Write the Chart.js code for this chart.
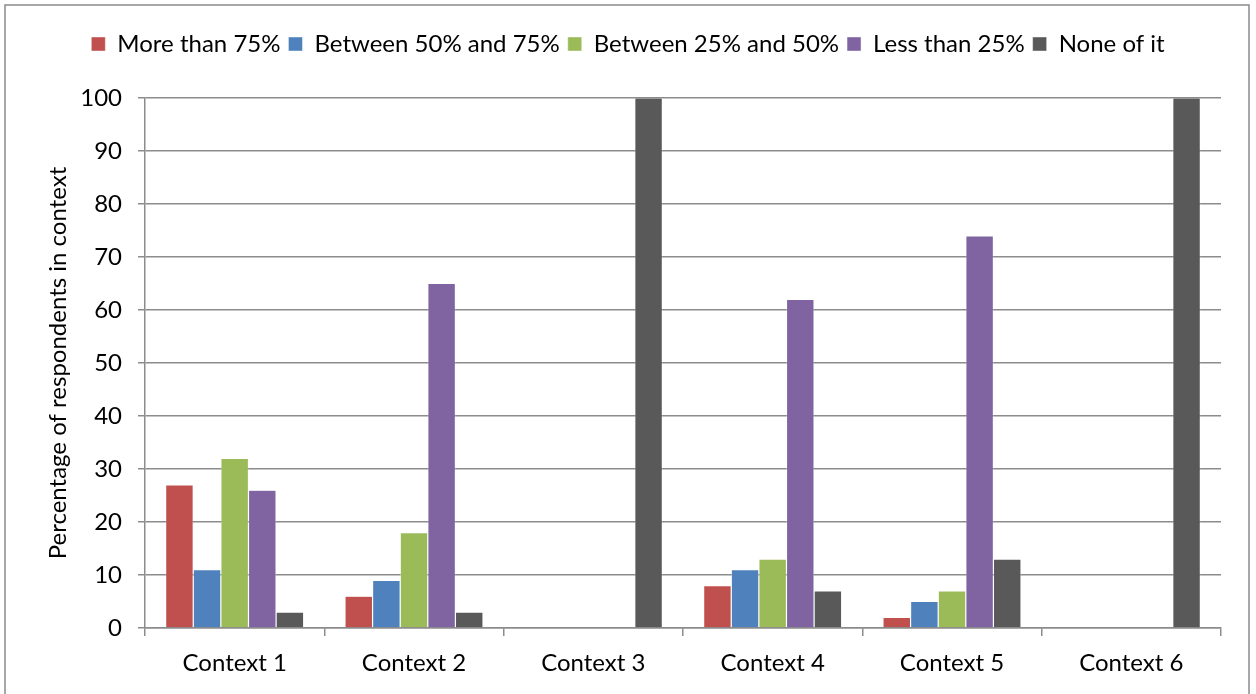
<!DOCTYPE html>
<html>
<head>
<meta charset="utf-8">
<script src="https://cdn.jsdelivr.net/npm/chart.js@4.4.0/dist/chart.umd.min.js"></script>
<style>
  html, body { margin: 0; padding: 0; background: #fff; }
  #wrap { position: relative; width: 1256px; height: 694px; }
</style>
</head>
<body>
<div id="wrap"><canvas id="myChart" width="1256" height="694"></canvas></div>
<script>
const ctx = document.getElementById('myChart');

const labels = ["Context 1", "Context 2", "Context 3", "Context 4", "Context 5", "Context 6"];
const moreThan75 = [27, 6, 0, 8, 2, 0];
const between50and75 = [11, 9, 0, 11, 5, 0];
const between25and50 = [32, 18, 0, 13, 7, 0];
const lessThan25 = [26, 65, 0, 62, 74, 0];
const noneOfIt = [3, 3, 100, 7, 13, 100];

const fontName = "Lato, 'Open Sans', sans-serif";
const fontSize = 24;
const gridGrey = '#8c8c8c';

// grey frame round the picture (top, left and right edges only)
const frame = {
    id: 'frame',
    afterDraw(chart) {
        const c = chart.ctx;
        c.save();
        c.strokeStyle = '#8a8a8a';
        c.lineWidth = 1.5;
        c.beginPath();
        c.moveTo(5, 700);
        c.lineTo(5, 5);
        c.lineTo(1249, 5);
        c.lineTo(1249, 700);
        c.stroke();
        c.restore();
    }
};

const legendHeight = {
    id: 'legendHeight',
    beforeInit(chart) {
        const fit = chart.legend.fit;
        chart.legend.fit = function () {
            fit.bind(chart.legend)();
            this.height = 74;
        };
    }
};

function bar(label, values, color) {
    return {
        label: label,
        data: values,
        backgroundColor: color,
        borderColor: 'rgba(255,255,255,0.7)',
        borderWidth: 0.6,
        barPercentage: 1,
        categoryPercentage: 0.77
    };
}

new Chart(ctx, {
    type: 'bar',
    data: {
        labels: labels,
        datasets: [
            bar('More than 75%', moreThan75, '#C0504D'),
            bar('Between 50% and 75%', between50and75, '#4F81BD'),
            bar('Between 25% and 50%', between25and50, '#9BBB59'),
            bar('Less than 25%', lessThan25, '#8064A2'),
            bar('None of it', noneOfIt, '#595959'),
        ]
    },
    plugins: [legendHeight, frame],
    options: {
        responsive: false,
        animation: false,
        layout: { padding: { top: 24, left: 0, right: 0, bottom: 0 } },
        plugins: {
            legend: {
                position: 'top',
                labels: {
                    boxWidth: 14,
                    boxHeight: 14,
                    padding: 8,
                    color: '#000',
                    font: { family: fontName, size: fontSize }
                }
            },
            tooltip: { enabled: false },
            title: { display: false }
        },
        scales: {
            x: {
                grid: {
                    display: true,
                    drawOnChartArea: false,
                    drawTicks: true,
                    tickLength: 8,
                    color: gridGrey,
                    lineWidth: 1.5,
                    offset: true
                },
                border: { display: true, color: gridGrey, width: 1.5 },
                ticks: {
                    color: '#000',
                    padding: 13,
                    font: { family: fontName, size: fontSize }
                },
                afterFit(scale) { scale.height = 66; }
            },
            y: {
                min: 0,
                max: 100,
                ticks: {
                    stepSize: 10,
                    color: '#000',
                    padding: 16,
                    font: { family: fontName, size: fontSize }
                },
                grid: {
                    color: gridGrey,
                    lineWidth: 1.5,
                    tickLength: 7
                },
                border: { display: true, color: gridGrey, width: 1.5 },
                title: {
                    display: true,
                    text: 'Percentage of respondents in context',
                    color: '#000',
                    padding: { top: 44, bottom: 0 },
                    font: { family: fontName, size: fontSize }
                },
                afterFit(scale) { scale.width = 145; }
            },
            y2: {
                position: 'right',
                display: true,
                grid: { display: false },
                border: { display: false },
                ticks: { display: false },
                afterFit(scale) { scale.width = 35; }
            }
        }
    }
});
</script>
</body>
</html>
